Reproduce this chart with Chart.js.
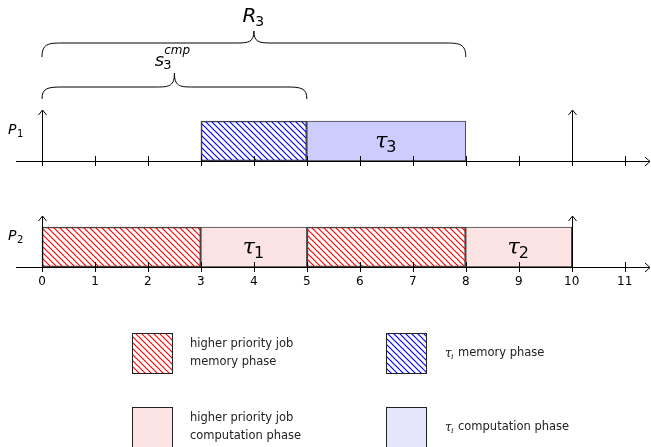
<!DOCTYPE html>
<html>
<head>
<meta charset="utf-8">
<script src="https://cdn.jsdelivr.net/npm/chart.js@4"></script>
<style>
html,body{margin:0;padding:0;background:#fff;}
#wrap{width:651px;height:447px;position:relative;}
</style>
</head>
<body>
<div id="wrap"><canvas id="c"></canvas></div>
<script>
// ---- data ----
const processors = ['P1', 'P2'];
const hpMemory = [[0, 3], [5, 8]];        // higher priority job memory phases on P2
const hpCompute = [[3, 5], [8, 10]];      // higher priority job computation phases on P2
const hpComputeLabels = ['1', '2'];       // tau subscripts
const tiMemory = [[3, 5]];                // tau_i memory phase on P1
const tiCompute = [[5, 8]];               // tau_i computation phase on P1
const tiComputeLabels = ['3'];
const releases = [0, 10];
const tickValues = [0, 1, 2, 3, 4, 5, 6, 7, 8, 9, 10, 11];
const tickLabels = ['0', '1', '2', '3', '4', '5', '6', '7', '8', '9', '10', '11'];
const braceR = [0, 8];                    // R_3
const braceS = [0, 5];                    // s_3^cmp
const legendLabels = [
  ['higher priority job', 'memory phase'],
  ['higher priority job', 'computation phase'],
  ['memory phase'],
  ['computation phase']
];

// ---- colours / patterns ----
function hatch(color) {
  const s = 6;
  const c = document.createElement('canvas');
  c.width = s; c.height = s;
  const g = c.getContext('2d');
  g.strokeStyle = color; g.lineWidth = 1.15;
  for (let k = -1; k <= 1; k++) {
    g.beginPath();
    g.moveTo(-s + k * s, -s); g.lineTo(2 * s + k * s, 2 * s);
    g.stroke();
  }
  return g.createPattern(c, 'repeat');
}
const redHatch = hatch('#ff0000');
const blueHatch = hatch('#0000ff');
const pink = 'rgb(253,228,228)';
const lavender = 'rgb(204,204,255)';
const lavenderLight = 'rgb(229,229,251)';

const toData = (segs, proc) => segs.map(s => ({ x: s, y: proc }));

const X0 = 42, UNIT = 52.97;

function mathText(ctx, base, sub, sup, cx, cy, size, baseFont) {
  const bf = (baseFont || 'italic ' + size + 'px "DejaVu Serif"');
  const sf = Math.round(size * 0.72) + 'px "DejaVu Sans"';
  const supf = 'italic ' + Math.round(size * 0.68) + 'px "DejaVu Sans"';
  ctx.font = bf; const wb = ctx.measureText(base).width;
  ctx.font = sf; const ws = sub ? ctx.measureText(sub).width : 0;
  ctx.font = supf; const wp = sup ? ctx.measureText(sup).width : 0;
  const total = wb + Math.max(ws, wp);
  let x = cx - total / 2;
  ctx.textBaseline = 'middle'; ctx.textAlign = 'left';
  ctx.font = bf; ctx.fillText(base, x, cy);
  if (sub) { ctx.font = sf; ctx.fillText(sub, x + wb - 1, cy + size * 0.28); }
  if (sup) { ctx.font = supf; ctx.fillText(sup, x + wb, cy - size * 0.55); }
}

function brace(ctx, x0, x1, yEnd, yFlat, yTip) {
  const xm = (x0 + x1) / 2, r = 20, rt = 17;
  ctx.beginPath();
  ctx.moveTo(x0, yEnd);
  ctx.bezierCurveTo(x0, yFlat + 1, x0 + r * 0.3, yFlat, x0 + r, yFlat);
  ctx.lineTo(xm - rt, yFlat);
  ctx.bezierCurveTo(xm - rt * 0.3, yFlat, xm, yFlat - 1, xm, yTip);
  ctx.bezierCurveTo(xm, yFlat - 1, xm + rt * 0.3, yFlat, xm + rt, yFlat);
  ctx.lineTo(x1 - r, yFlat);
  ctx.bezierCurveTo(x1 - r * 0.3, yFlat, x1, yFlat + 1, x1, yEnd);
  ctx.stroke();
}

const decor = {
  id: 'decor',
  afterDatasetsDraw(chart) {
    const ctx = chart.ctx, xs = chart.scales.x, ys = chart.scales.y;
    const area = chart.chartArea;
    ctx.save();
    // labels inside computation bars
    const labelSets = { 1: hpComputeLabels, 3: tiComputeLabels };
    Object.keys(labelSets).forEach(di => {
      const meta = chart.getDatasetMeta(+di);
      meta.data.forEach((el, i) => {
        const p = el.getProps(['x', 'y', 'base'], true);
        ctx.fillStyle = '#000';
        mathText(ctx, 'τ', labelSets[di][i], null, (p.x + p.base) / 2, p.y + 1, 22);
      });
    });
    // axes for each processor
    processors.forEach((proc, idx) => {
      const yb = ys.getPixelForValue(idx) + 20;
      ctx.strokeStyle = '#000'; ctx.lineWidth = 1;
      ctx.beginPath();
      ctx.moveTo(area.left, yb + 0.5); ctx.lineTo(area.right, yb + 0.5);
      ctx.stroke();
      // arrow head
      ctx.beginPath();
      ctx.moveTo(area.right - 5, yb - 4); ctx.lineTo(area.right, yb + 0.5); ctx.lineTo(area.right - 5, yb + 5);
      ctx.stroke();
      tickValues.forEach(v => {
        const px = Math.round(xs.getPixelForValue(v)) + 0.5;
        ctx.beginPath(); ctx.moveTo(px, yb - 5); ctx.lineTo(px, yb + 5); ctx.stroke();
      });
      // release arrows
      releases.forEach(v => {
        const px = Math.round(xs.getPixelForValue(v)) + 0.5;
        ctx.beginPath(); ctx.moveTo(px, yb + 4); ctx.lineTo(px, yb - 51); ctx.stroke();
        ctx.beginPath(); ctx.moveTo(px - 4, yb - 46); ctx.lineTo(px, yb - 51); ctx.lineTo(px + 4, yb - 46); ctx.stroke();
      });
      // processor label
      ctx.fillStyle = '#000';
      ctx.font = 'italic 14px "DejaVu Sans"';
      ctx.textAlign = 'left'; ctx.textBaseline = 'middle';
      ctx.fillText('P', 8, yb - 31);
      ctx.font = '10px "DejaVu Sans"';
      ctx.fillText(proc.slice(1), 17, yb - 27);
      if (idx === processors.length - 1) {
        ctx.font = '12px "DejaVu Sans"';
        ctx.textAlign = 'center'; ctx.textBaseline = 'middle';
        tickValues.forEach((v, i) => ctx.fillText(tickLabels[i], xs.getPixelForValue(v), yb + 15));
      }
    });
    // braces
    ctx.strokeStyle = '#000'; ctx.lineWidth = 1;
    brace(ctx, xs.getPixelForValue(braceR[0]), xs.getPixelForValue(braceR[1]), 57, 43, 31);
    brace(ctx, xs.getPixelForValue(braceS[0]), xs.getPixelForValue(braceS[1]), 99, 87, 73);
    ctx.fillStyle = '#000';
    mathText(ctx, 'R', '3', null, xs.getPixelForValue((braceR[0] + braceR[1]) / 2), 17, 20, 'italic 20px "DejaVu Sans"');
    mathText(ctx, 's', '3', 'cmp', xs.getPixelForValue((braceS[0] + braceS[1]) / 2) - 2, 61, 18, 'italic 18px "DejaVu Sans"');
    // legend
    const items = [
      { ds: 0, x: 132, y: 333, labelIdx: 0, tx: 190 },
      { ds: 2, x: 386, y: 333, labelIdx: 2, tx: 445, tau: true },
      { ds: 1, x: 132, y: 407, labelIdx: 1, tx: 190 },
      { ds: 3, x: 386, y: 407, labelIdx: 3, tx: 445, tau: true, fill: lavenderLight }
    ];
    items.forEach(it => {
      const ds = chart.data.datasets[it.ds];
      ctx.fillStyle = it.fill || ds.backgroundColor;
      ctx.fillRect(it.x, it.y, 40, 40);
      ctx.strokeStyle = '#222'; ctx.lineWidth = 1;
      ctx.strokeRect(it.x + 0.5, it.y + 0.5, 40, 40);
      const lines = legendLabels[it.labelIdx];
      ctx.fillStyle = '#222';
      ctx.textAlign = 'left'; ctx.textBaseline = 'middle';
      const cy = it.y + 20;
      if (it.tau) {
        ctx.font = 'italic 12px "DejaVu Serif"';
        ctx.fillText('τ', it.tx, cy + 1);
        ctx.font = 'italic 8px "DejaVu Serif"';
        ctx.fillText('i', it.tx + 6, cy + 4);
        ctx.font = '11.5px "DejaVu Sans"';
        ctx.fillText(lines[0], it.tx + 13, cy);
      } else {
        ctx.font = '11.5px "DejaVu Sans"';
        lines.forEach((l, i) => ctx.fillText(l, it.tx, cy + (i - (lines.length - 1) / 2) * 18));
      }
    });
    ctx.restore();
  }
};

new Chart(document.getElementById('c'), {
  type: 'bar',
  data: {
    labels: processors,
    datasets: [
      { label: 'higher priority job memory phase', data: toData(hpMemory, 'P2'), backgroundColor: redHatch },
      { label: 'higher priority job computation phase', data: toData(hpCompute, 'P2'), backgroundColor: pink },
      { label: 'τi memory phase', data: toData(tiMemory, 'P1'), backgroundColor: blueHatch },
      { label: 'τi computation phase', data: toData(tiCompute, 'P1'), backgroundColor: lavender }
    ].map(d => Object.assign(d, { borderColor: '#444', borderWidth: 1, borderSkipped: false, barThickness: 40, grouped: false, clip: false }))
  },
  options: {
    indexAxis: 'y',
    responsive: true,
    maintainAspectRatio: false,
    animation: false,
    layout: { padding: { left: 16, right: 1, top: 141, bottom: 200 } },
    scales: {
      x: { type: 'linear', display: false, min: (16 - X0) / UNIT, max: (650 - X0) / UNIT },
      y: { type: 'category', display: false, offset: false, labels: processors }
    },
    plugins: { legend: { display: false }, tooltip: { enabled: false } }
  },
  plugins: [decor]
});
</script>
</body>
</html>
